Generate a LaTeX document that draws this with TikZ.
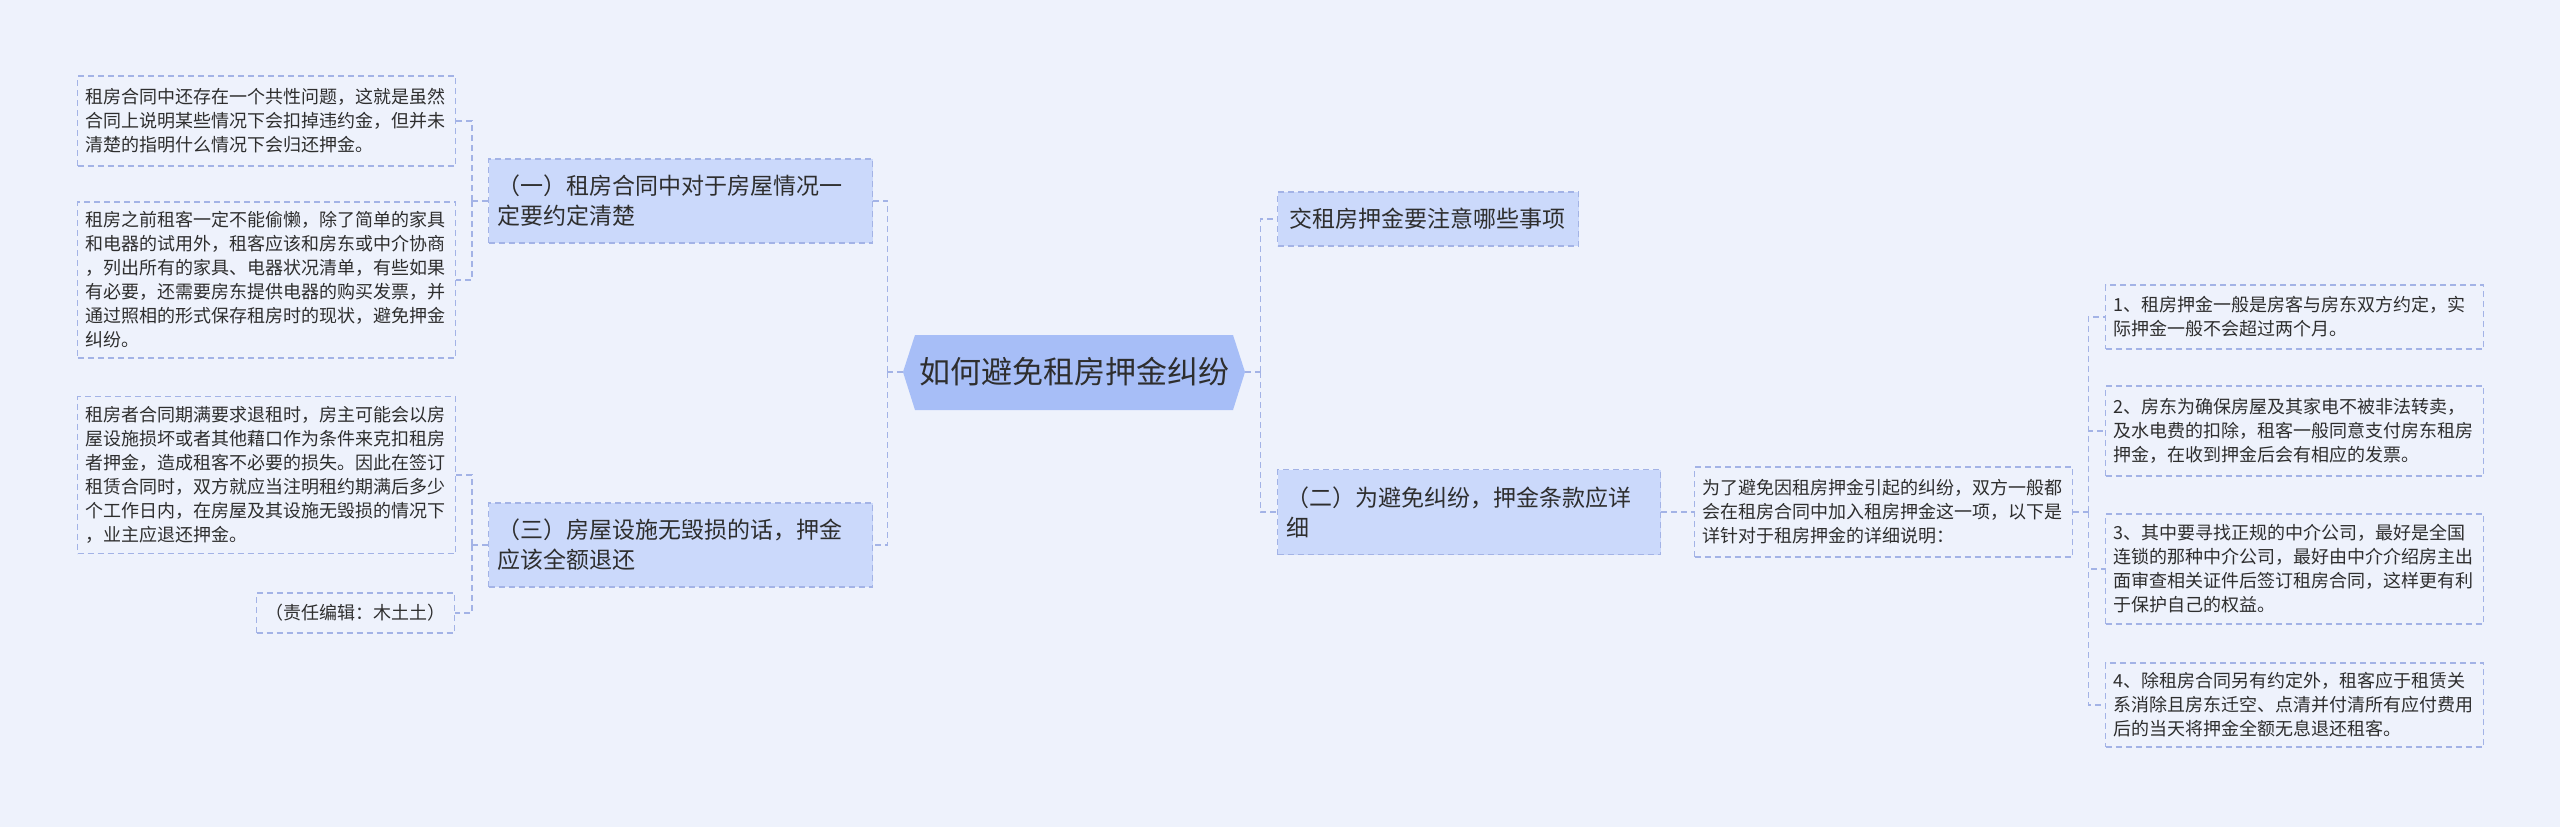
\documentclass[tikz,border=0pt]{standalone}
\usepackage{fontspec}
\usepackage{xcolor}
\usepackage{tikz}
\setmainfont{Noto Sans CJK SC}

\definecolor{bgc}{HTML}{EEF2FC}
\definecolor{linec}{HTML}{A3B3E6}
\definecolor{rootc}{HTML}{A7BEF7}
\definecolor{mainc}{HTML}{CBD9FB}
\definecolor{txtc}{HTML}{2E2E2E}

\begin{document}
\begin{tikzpicture}[x=1pt, y=-1pt,
    link/.style={draw=linec, line width=1.2pt, dash pattern=on 6pt off 4pt},
    leaf/.style={link, anchor=west, align=left, text width=362pt, inner xsep=8pt,
        inner ysep=0pt, text=txtc, font=\fontsize{18}{24}\selectfont},
    branch/.style={link, fill=mainc, anchor=west, align=left, text width=366pt,
        inner xsep=9pt, inner ysep=0pt, text=txtc, font=\fontsize{23}{30}\selectfont}]
    % 背景
    \useasboundingbox (0,0) rectangle (2560,827);
    \fill[bgc] (0,0) rectangle (2560,827);

    % 中心主题
    \fill[rootc] (903,372) -- (915,335) -- (1233,335) -- (1245,372)
        -- (1233,410) -- (915,410) -- cycle;
    \node[minimum width=342pt, minimum height=75pt, inner sep=0pt, text=txtc,
        font=\fontsize{31}{36}\selectfont] (root) at (1074,372) {如何避免租房押金纠纷};

    % 左侧分支
    \node[branch, minimum height=84pt] (n1) at (488,201)
        {（一）租房合同中对于房屋情况一\\定要约定清楚};
    \node[branch, minimum height=84pt] (n3) at (488,545)
        {（三）房屋设施无毁损的话，押金\\应该全额退还};

    \node[leaf, minimum height=90pt] (l1) at (77,121)
        {租房合同中还存在一个共性问题，这就是虽然\\合同上说明某些情况下会扣掉违约金，但并未\\清楚的指明什么情况下会归还押金。};
    \node[leaf, minimum height=156pt] (l2) at (77,280)
        {租房之前租客一定不能偷懒，除了简单的家具\\和电器的试用外，租客应该和房东或中介协商\\，列出所有的家具、电器状况清单，有些如果\\有必要，还需要房东提供电器的购买发票，并\\通过照相的形式保存租房时的现状，避免押金\\纠纷。};
    \node[leaf, minimum height=157pt] (l3) at (77,475)
        {租房者合同期满要求退租时，房主可能会以房\\屋设施损坏或者其他藉口作为条件来克扣租房\\者押金，造成租客不必要的损失。因此在签订\\租赁合同时，双方就应当注明租约期满后多少\\个工作日内，在房屋及其设施无毁损的情况下\\，业主应退还押金。};
    \node[leaf, text width=181pt, inner xsep=8.5pt, minimum height=40pt] (l4) at (256,613)
        {（责任编辑：木土土）};

    % 右侧分支
    \node[branch, text width=277pt, inner xsep=12pt, minimum height=54pt] (r1) at (1277,219)
        {交租房押金要注意哪些事项};
    \node[branch, text width=365pt, minimum height=85pt] (n2) at (1277,512)
        {（二）为避免纠纷，押金条款应详\\细};
    \node[leaf, minimum height=90pt] (d) at (1694,512)
        {为了避免因租房押金引起的纠纷，双方一般都\\会在租房合同中加入租房押金这一项，以下是\\详针对于租房押金的详细说明：};

    \node[leaf, minimum height=64pt] (k1) at (2105,317)
        {1、租房押金一般是房客与房东双方约定，实\\际押金一般不会超过两个月。};
    \node[leaf, minimum height=90pt] (k2) at (2105,431)
        {2、房东为确保房屋及其家电不被非法转卖，\\及水电费的扣除，租客一般同意支付房东租房\\押金，在收到押金后会有相应的发票。};
    \node[leaf, minimum height=110pt] (k3) at (2105,569)
        {3、其中要寻找正规的中介公司，最好是全国\\连锁的那种中介公司，最好由中介介绍房主出\\面审查相关证件后签订租房合同，这样更有利\\于保护自己的权益。};
    \node[leaf, minimum height=84pt] (k4) at (2105,705)
        {4、除租房合同另有约定外，租客应于租赁关\\系消除且房东迁空、点清并付清所有应付费用\\后的当天将押金全额无息退还租客。};

    % 连线
    \coordinate (jl) at ([xshift=-15pt]root.west);
    \draw[link] (root.west) -- (jl);
    \draw[link] (jl) |- (n1.east);
    \draw[link] (jl) |- (n3.east);

    \coordinate (ja) at ([xshift=-16pt]n1.west);
    \draw[link] (n1.west) -- (ja);
    \draw[link] (ja) |- (l1.east);
    \draw[link] (ja) |- (l2.east);

    \coordinate (jb) at ([xshift=-16pt]n3.west);
    \draw[link] (n3.west) -- (jb);
    \draw[link] (jb) |- (l3.east);
    \draw[link] (jb) |- (l4.east);

    \coordinate (jr) at ([xshift=15pt]root.east);
    \draw[link] (root.east) -- (jr);
    \draw[link] (jr) |- (r1.west);
    \draw[link] (jr) |- (n2.west);

    \draw[link] (n2.east) -- (d.west);

    \coordinate (jd) at ([xshift=15pt]d.east);
    \draw[link] (d.east) -- (jd);
    \foreach \k in {k1,k2,k3,k4}
        \draw[link] (jd) |- (\k.west);
\end{tikzpicture}
\end{document}
